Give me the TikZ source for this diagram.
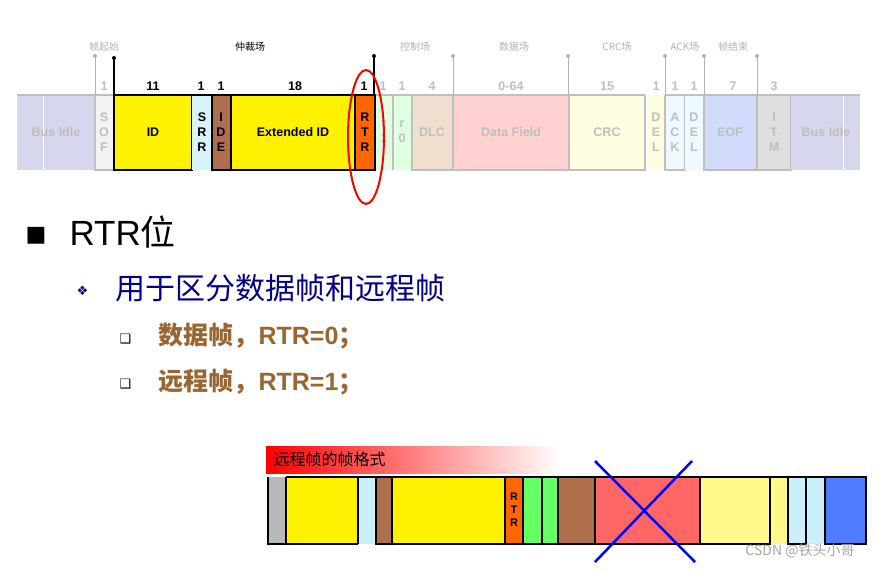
\documentclass[tikz,border=0pt]{standalone}
\usepackage{fontspec}
\setmainfont{Liberation Sans}
\newfontfamily\cjk{Noto Sans CJK SC}
\newfontfamily\djsym{DejaVu Sans}
\definecolor{cbrown}{RGB}{176,111,76}
\definecolor{corange}{RGB}{255,102,0}
\definecolor{cred}{RGB}{255,102,102}
\definecolor{cblue}{RGB}{80,125,255}
\definecolor{cnavy}{RGB}{0,0,140}
\definecolor{ctan}{RGB}{153,102,51}
\definecolor{cidle}{RGB}{214,214,236}
\definecolor{ceof}{RGB}{210,220,250}
\begin{document}
\begin{tikzpicture}[x=1pt,y=-1pt,
  gt/.style={text=gray!50,font=\bfseries\fontsize{12.5}{15}\selectfont,align=center},
  bt/.style={text=black,font=\bfseries\fontsize{12.5}{15}\selectfont,align=center},
  num/.style={font=\bfseries\fontsize{12.5}{13}\selectfont,anchor=base},
  flab/.style={font=\cjk\fontsize{10}{11}\selectfont,text=gray!60},
  tick/.style={gray!60,line width=1pt},
  btick/.style={black,line width=1.3pt}]
\useasboundingbox (0,0) rectangle (887,570);
\fill[white] (0,0) rectangle (887,570);
\def\seg#1#2#3{\fill[#3] (#1,95) rectangle (#2,170); \draw[gray!50,line width=2.5pt] (#1,95) -- (#2,95) (#1,95)--(#1,170)--(#2,170)--(#2,95);}
\fill[cidle] (17,95) rectangle (95,170);
\draw[white,line width=1pt] (43,95)--(43,170);
\draw[gray!50,line width=2.5pt] (17,95)--(95,95);
\node[gt] (bi1) at (56,132) {Bus Idle};
\seg{95}{114}{gray!10}
\node[gt] (sof) at (104,132) {S\\O\\F};
\fill[green!12] (375,95) rectangle (393,170);
\fill[green!12] (393,95) rectangle (412,170);
\draw[gray!50,line width=2.5pt] (375,95)--(412,95) (393,95)--(393,170);
\node[gt] (r1) at (384,132) {r\\1};
\node[gt] (r0) at (402,132) {r\\0};
\seg{412}{453}{brown!25}
\node[gt] (dlc) at (432,132) {DLC};
\seg{453}{569}{red!18}
\node[gt] (df) at (511,132) {Data Field};
\seg{569}{645}{yellow!12}
\node[gt] (crc) at (607,132) {CRC};
\fill[yellow!12] (647,95) rectangle (665,170);
\node[gt] (del1) at (656,132) {D\\E\\L};
\seg{665}{685}{cyan!7}
\node[gt] (ack) at (675,132) {A\\C\\K};
\fill[cyan!7] (685,95) rectangle (704,170);
\node[gt] (del2) at (694,132) {D\\E\\L};
\draw[gray!50,line width=2.5pt] (685,95)--(704,95);
\seg{704}{757}{ceof}
\node[gt] (eof) at (730,132) {EOF};
\seg{757}{791}{gray!25}
\node[gt] (itm) at (774,132) {I\\T\\M};
\fill[cidle] (791,95) rectangle (860,170);
\draw[white,line width=1pt] (843,95)--(843,170);
\draw[gray!50,line width=2.5pt] (791,95)--(860,95);
\node[gt] (bi2) at (826,132) {Bus Idle};
% active
\filldraw[fill=yellow,draw=black,line width=2.5pt] (114,95) rectangle (192,170);
\node[bt] (id) at (153,132) {ID};
\fill[cyan!15] (192,95) rectangle (212,170);
\node[bt] (srr) at (202,132) {S\\R\\R};
\filldraw[fill=cbrown,draw=black,line width=2.5pt] (212,95) rectangle (231,170);
\node[bt] (ide) at (221,132) {I\\D\\E};
\filldraw[fill=yellow,draw=black,line width=2.5pt] (231,95) rectangle (355,170);
\node[bt] (eid) at (293,132) {Extended ID};
\filldraw[fill=corange,draw=black,line width=2.5pt] (355,95) rectangle (375,170);
\node[bt] (rtr) at (365,132) {R\\T\\R};
\draw[black,line width=2.5pt] (192,95)--(212,95);
\foreach \x/\t/\c in {104/1/gray!50,153/11/black,201/1/black,221/1/black,295/18/black,364/1/black,383/1/gray!50,402/1/gray!50,432/4/gray!50,511/0-64/gray!50,607/15/gray!50,656/1/gray!50,675/1/gray!50,694/1/gray!50,733/7/gray!50,774/3/gray!50}
  \node[num,text=\c] at (\x,90) {\t};
\foreach \x in {95,453,568,665,704,757}{\draw[tick] (\x,56)--(\x,95); \fill[gray!60] (\x,56) circle (2);}
\draw[btick] (114,58)--(114,95); \fill (114,58) circle (2);
\draw[btick] (374,56)--(374,95); \fill (374,56) circle (2);
\node[flab] (l1) at (104,47) {帧起始};
\node[flab,text=black] (l2) at (250,47) {仲裁场};
\node[flab] (l3) at (415,47) {控制场};
\node[flab] (l4) at (514,47) {数据场};
\node[flab] (l5) at (617,47) {CRC场};
\node[flab] (l6) at (685,47) {ACK场};
\node[flab] (l7) at (733,47) {帧结束};
\draw[red,line width=2pt] (366,137) ellipse (18 and 67);
% bullets
\node[anchor=west] (b1) at (22,236) {\djsym\fontsize{22}{22}\selectfont ■};
\node[anchor=west] (t1) at (66,232) {\fontsize{35}{38}\selectfont RTR\cjk 位};
\node[anchor=west,text=cnavy] (b2) at (73,291) {\djsym\fontsize{13}{13}\selectfont ❖};
\node[anchor=west,text=cnavy] (t2) at (112,288) {\cjk\fontsize{30}{34}\selectfont 用于区分数据帧和远程帧};
\node[anchor=west] (b3) at (116,339) {\djsym\fontsize{13}{13}\selectfont ❑};
\node[anchor=west,text=ctan] (t3) at (155,336) {\bfseries\fontsize{25}{28}\selectfont {\cjk 数据帧，}RTR=0{\cjk ；}};
\node[anchor=west] (b4) at (116,384) {\djsym\fontsize{13}{13}\selectfont ❑};
\node[anchor=west,text=ctan] (t4) at (155,382) {\bfseries\fontsize{25}{28}\selectfont {\cjk 远程帧，}RTR=1{\cjk ；}};
% bottom
\shade[left color=red,right color=white] (266,446) rectangle (560,473);
\node[anchor=west] (title) at (270,459) {\cjk\fontsize{16}{18}\selectfont 远程帧的帧格式};
\def\bb#1#2#3{\fill[#3] (#1,477) rectangle (#2,544);}
\bb{268}{286}{gray!55}
\bb{286}{358}{yellow}
\bb{358}{376}{cyan!20}
\bb{376}{392}{cbrown}
\bb{392}{505}{yellow}
\bb{505}{523}{corange}
\bb{523}{558}{green!60}
\bb{558}{595}{cbrown}
\bb{595}{700}{cred}
\bb{700}{770}{yellow!45}
\bb{770}{788}{yellow!45}
\bb{788}{825}{cyan!20}
\bb{825}{866}{cblue}
\node[font=\bfseries\fontsize{11}{13}\selectfont,align=center] (rtr2) at (514,510) {R\\T\\R};
\draw[black,line width=2pt]
  (268,477)--(268,544)--(358,544) (286,477)--(286,544) (358,477)--(358,544) (286,477)--(523,477)
  (376,477)--(376,544)--(505,544) (392,477)--(392,544) (505,477)--(505,544)--(558,544)
  (523,477)--(523,544) (542,477)--(542,544) (558,477)--(866,477)--(866,544)--(825,544)--(825,477)
  (558,477)--(558,544)--(770,544)--(770,477) (595,477)--(595,544) (700,477)--(700,544)
  (788,477)--(788,544)--(806,544)--(806,477)
  (523,477) -- (558,477);
\draw[blue,line width=2.5pt] (595,461)--(695,562) (595,562)--(692,461);
\node[text=gray!70,font=\cjk\fontsize{14}{15}\selectfont] (wm) at (800,551) {CSDN @铁头小哥};
\end{tikzpicture}
\end{document}
